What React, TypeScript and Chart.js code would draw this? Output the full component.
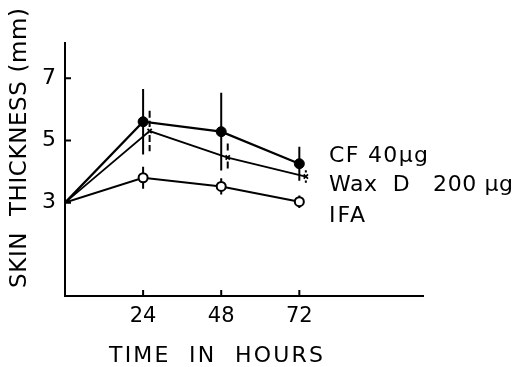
import React, { useEffect, useRef } from "react";
import { Chart, registerables } from "chart.js";

Chart.register(...registerables);

const hours = [0, 24, 48, 72];
const waxHours = [0, 26, 50, 74];
const cfValues = [3, 5.6, 5.28, 4.25];
const cfErr = [0, 1.05, 1.25, 0.55];
const waxValues = [3, 5.3, 4.45, 3.84];
const waxErr = [0, 0.65, 0.45, 0.2];
const ifaValues = [3, 3.8, 3.52, 3.03];
const ifaErr = [0, 0.35, 0.26, 0.2];
const xTicks = [24, 48, 72];
const yTicks = [3, 5, 7];
const seriesLabels = ["CF 40\u03bcg", "Wax  D   200 \u03bcg", "IFA"];
const xTitle = "TIME  IN  HOURS";
const yTitle = "SKIN  THICKNESS (mm)";

const FONT = "'DejaVu Sans', 'Liberation Sans', sans-serif";

function fitText(ctx: CanvasRenderingContext2D, text: string, x: number, y: number, width: number) {
  (ctx as any).letterSpacing = "0px";
  const w = ctx.measureText(text).width;
  const n = Math.max(1, text.length - 1);
  const sp = (width - w) / n;
  (ctx as any).letterSpacing = sp.toFixed(2) + "px";
  ctx.fillText(text, x, y);
  (ctx as any).letterSpacing = "0px";
}

const decorPlugin = {
  id: "decor",
  beforeDatasetsDraw(chart: any) {
    const ctx = chart.ctx;
    const ys = chart.scales.y;
    const xs = chart.scales.x;
    const groups = [
      { xv: hours, v: cfValues, e: cfErr, dash: [] as number[], gap: 0 },
      { xv: waxHours, v: waxValues, e: waxErr, dash: [7, 3], gap: 4 },
      { xv: hours, v: ifaValues, e: ifaErr, dash: [] as number[], gap: 0 },
    ];
    ctx.save();
    ctx.strokeStyle = "#000";
    ctx.lineWidth = 2;
    groups.forEach((g) => {
      ctx.setLineDash(g.dash);
      g.v.forEach((val, i) => {
        if (!g.e[i]) return;
        const px = xs.getPixelForValue(g.xv[i]);
        const pc = ys.getPixelForValue(val);
        const pt = ys.getPixelForValue(val + g.e[i]);
        const pb = ys.getPixelForValue(val - g.e[i]);
        ctx.beginPath();
        ctx.moveTo(px, pt);
        ctx.lineTo(px, pc - g.gap);
        ctx.moveTo(px, pc + g.gap);
        ctx.lineTo(px, pb);
        ctx.stroke();
      });
    });
    ctx.restore();
  },
  afterDraw(chart: any) {
    const ctx = chart.ctx;
    const ys = chart.scales.y;
    const xs = chart.scales.x;
    const area = chart.chartArea;
    ctx.save();
    ctx.strokeStyle = "#000";
    ctx.lineWidth = 2;
    ctx.setLineDash([]);
    ctx.beginPath();
    yTicks.forEach((v) => {
      const p = ys.getPixelForValue(v);
      ctx.moveTo(area.left, p);
      ctx.lineTo(area.left + 6, p);
    });
    xTicks.forEach((v) => {
      const p = xs.getPixelForValue(v);
      ctx.moveTo(p, area.bottom);
      ctx.lineTo(p, area.bottom - 6);
    });
    ctx.stroke();

    ctx.fillStyle = "#000";
    ctx.textBaseline = "alphabetic";
    ctx.textAlign = "left";
    ctx.font = "22px " + FONT;
    fitText(ctx, seriesLabels[0], 329, 162, 99);
    fitText(ctx, seriesLabels[1], 329, 191, 184);
    fitText(ctx, seriesLabels[2], 329, 222, 36);

    ctx.font = "22px " + FONT;
    fitText(ctx, xTitle, 109, 362, 214);

    ctx.save();
    ctx.translate(26, 288);
    ctx.rotate(-Math.PI / 2);
    ctx.font = "23px " + FONT;
    fitText(ctx, yTitle, 0, 0, 280);
    ctx.restore();
    ctx.restore();
  },
};

export default function App() {
  const ref = useRef<HTMLCanvasElement>(null);
  useEffect(() => {
    if (!ref.current) return;
    const mk = (xv: number[], v: number[]) => xv.map((x, i) => ({ x, y: v[i] }));
    const chart = new Chart(ref.current, {
      type: "line",
      data: {
        datasets: [
          {
            label: seriesLabels[0],
            data: mk(hours, cfValues),
            borderColor: "#000",
            borderWidth: 2.2,
            backgroundColor: "#000",
            pointStyle: "circle",
            pointRadius: [0, 5, 5, 5],
            pointBorderWidth: 1,
            pointBorderColor: "#000",
            pointBackgroundColor: "#000",
          },
          {
            label: seriesLabels[1],
            data: mk(waxHours, waxValues),
            borderColor: "#000",
            borderWidth: 1.8,
            pointStyle: "crossRot",
            pointRadius: [0, 3, 3, 3],
            pointBorderWidth: 1.8,
            pointBorderColor: "#000",
          },
          {
            label: seriesLabels[2],
            data: mk(hours, ifaValues),
            borderColor: "#000",
            borderWidth: 2,
            pointStyle: "circle",
            pointRadius: [0, 4.5, 4.5, 4.5],
            pointBorderWidth: 2,
            pointBorderColor: "#000",
            pointBackgroundColor: "#fff",
          },
        ],
      },
      options: {
        responsive: false,
        animation: false,
        events: [],
        layout: { padding: { left: 0, right: 95, top: 43, bottom: 0 } },
        plugins: { legend: { display: false }, tooltip: { enabled: false } },
        elements: { line: { tension: 0 } },
        scales: {
          x: {
            type: "linear",
            min: 0,
            max: 110,
            grid: { display: false, drawTicks: false },
            border: { display: true, color: "#000", width: 2 },
            afterBuildTicks: (s: any) => {
              s.ticks = xTicks.map((v) => ({ value: v }));
            },
            afterFit: (s: any) => {
              s.height = 71;
            },
            ticks: {
              color: "#000",
              padding: 8,
              maxRotation: 0,
              autoSkip: false,
              font: { family: FONT, size: 21 },
              callback: (v: any) => String(v),
            },
          },
          y: {
            type: "linear",
            min: 0,
            max: 8.13,
            grid: { display: false, drawTicks: false },
            border: { display: true, color: "#000", width: 2 },
            afterBuildTicks: (s: any) => {
              s.ticks = yTicks.map((v) => ({ value: v }));
            },
            afterFit: (s: any) => {
              s.width = 65;
            },
            ticks: {
              color: "#000",
              padding: 9,
              autoSkip: false,
              font: { family: FONT, size: 22 },
              callback: (v: any) => String(v),
            },
          },
        },
      },
      plugins: [decorPlugin],
    });
    return () => chart.destroy();
  }, []);
  return (
    <div style={{ position: "absolute", left: 0, top: 0, width: 518, height: 367, background: "#fff" }}>
      <canvas ref={ref} width={518} height={367} style={{ display: "block" }} />
    </div>
  );
}
